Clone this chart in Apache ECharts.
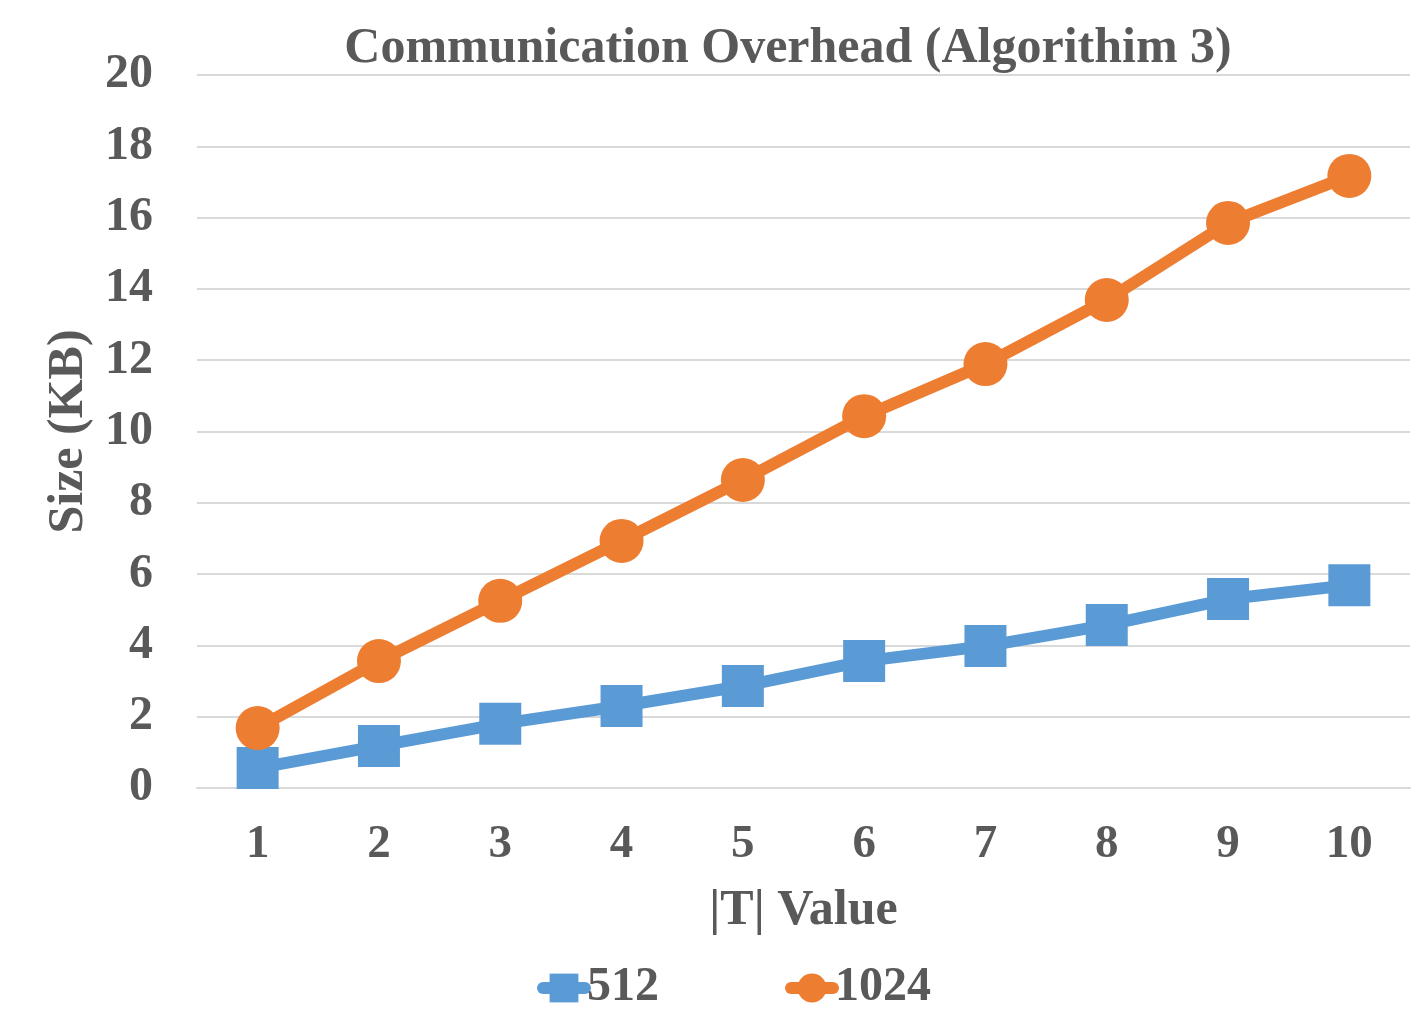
<!DOCTYPE html>
<html>
<head>
<meta charset="utf-8">
<script src="https://cdn.jsdelivr.net/npm/echarts@6/dist/echarts.min.js"></script>
<style>
html, body { margin: 0; padding: 0; background: #fff; }
#main { width: 1422px; height: 1033px; }
</style>
</head>
<body>
<div id="main"></div>
<script>
var categories = ['1', '2', '3', '4', '5', '6', '7', '8', '9', '10'];
var values512 = [0.56, 1.18, 1.80, 2.30, 2.86, 3.56, 3.98, 4.57, 5.30, 5.69];
var values1024 = [1.68, 3.56, 5.25, 6.93, 8.64, 10.43, 11.89, 13.69, 15.85, 17.17];

var textColor = '#595959';
var fontFam = '"Liberation Serif", "Times New Roman", serif';

var chart = echarts.init(document.getElementById('main'));
var option = {
	animation: false,
	title: {
		text: 'Communication Overhead (Algorithim 3)',
		left: 783,
		textAlign: 'center',
		top: 19,
		textStyle: { color: textColor, fontFamily: fontFam, fontWeight: 'bold', fontSize: 50 }
	},
	legend: {
		top: 959,
		left: 532,
		itemGap: 126,
		itemWidth: 42,
		itemHeight: 36,
		lineStyle: { width: 12, cap: 'round' },
		textStyle: { color: textColor, fontFamily: fontFam, fontWeight: 'bold', fontSize: 48, padding: [0, 0, 0, -3] },
		data: ['512', '1024']
	},
	grid: { left: 197, right: 12, top: 75, bottom: 245 },
	xAxis: {
		type: 'category',
		data: categories,
		name: '|T| Value',
		nameLocation: 'middle',
		nameGap: 98,
		nameTextStyle: { color: textColor, fontFamily: fontFam, fontWeight: 'bold', fontSize: 50 },
		axisLine: { lineStyle: { color: '#d9d9d9', width: 2 } },
		axisTick: { show: false },
		axisLabel: { color: textColor, fontFamily: fontFam, fontWeight: 'bold', fontSize: 47, margin: 33 }
	},
	yAxis: {
		type: 'value',
		min: 0,
		max: 20,
		interval: 2,
		name: 'Size (KB)',
		nameLocation: 'middle',
		nameGap: 100,
		nameTextStyle: { color: textColor, fontFamily: fontFam, fontWeight: 'bold', fontSize: 50 },
		axisLine: { show: false },
		axisTick: { show: false },
		splitLine: { lineStyle: { color: '#d9d9d9', width: 2 } },
		axisLabel: { color: textColor, fontFamily: fontFam, fontWeight: 'bold', fontSize: 48, margin: 44 }
	},
	series: [{
		name: '512',
		type: 'line',
		data: values512,
		symbol: 'rect',
		symbolSize: 42,
		lineStyle: { color: '#5b9bd5', width: 12, cap: 'round' },
		itemStyle: { color: '#5b9bd5' }
	}, {
		name: '1024',
		type: 'line',
		data: values1024,
		symbol: 'circle',
		symbolSize: 44,
		lineStyle: { color: '#ed7d31', width: 12, cap: 'round' },
		itemStyle: { color: '#ed7d31' }
	}]
};
chart.setOption(option);
window.onresize = chart.resize;
</script>
</body>
</html>
